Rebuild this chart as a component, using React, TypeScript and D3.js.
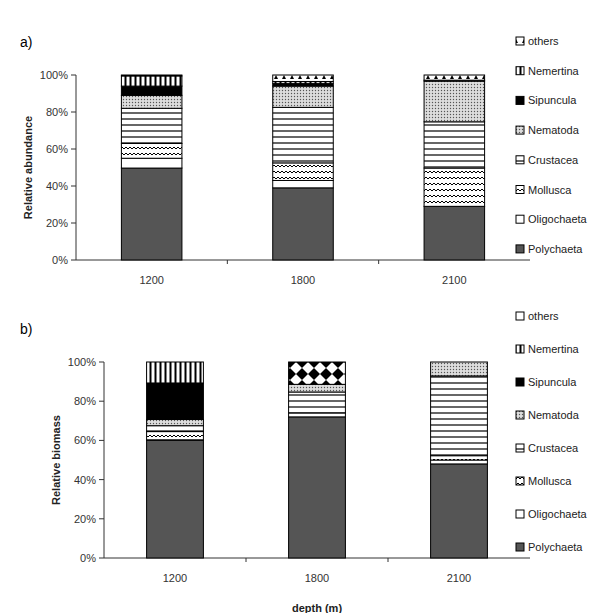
import * as d3 from "d3";

const depths = ["1200", "1800", "2100"];
const groups = ["Polychaeta", "Oligochaeta", "Mollusca", "Crustacea", "Nematoda", "Sipuncula", "Nemertina", "others"];
// values per depth, in the order of `groups`
const abundance = [
  [49.7, 5.3, 8, 19, 7, 5, 5.5, 0.5],
  [39, 4, 9.5, 30, 11.5, 1.5, 1, 3.5],
  [29, 0, 20.7, 25, 22, 0.5, 0, 2.8],
];
const biomass = [
  [60, 0.3, 4.2, 3, 3.2, 18.6, 10.7, 0],
  [72, 0, 2, 10.7, 3.9, 0, 0, 11.4],
  [48, 2, 2.2, 40.7, 7.1, 0, 0, 0],
];
const yTicks = [0, 20, 40, 60, 80, 100];

const fills: Record<string, string> = {
  Polychaeta: "#555",
  Oligochaeta: "#fff",
  Mollusca: "url(#zig)",
  Crustacea: "url(#hlines)",
  Nematoda: "url(#dots)",
  Sipuncula: "#000",
  Nemertina: "url(#vlines)",
  others: "url(#diam)",
};

function Panel({ data, top, bottom, left, right, ylabel, legendTop, legendStep, label, othersFill, othersLegend }: any) {
  const y = d3.scaleLinear().domain([0, 100]).range([bottom, top]);
  const x = d3.scaleBand().domain(depths).range([left, right]);
  const bw = x.bandwidth() * 0.4;
  const stacks = data.map((row: number[]) => {
    let acc = 0;
    return row.map((v) => { const s = acc; acc += v; return [s, acc]; });
  });
  const font = "Arial, 'Liberation Sans', sans-serif";
  return (
    <g fontFamily={font}>
      <text x={12} y={top - 28} fontSize={14}>{label}</text>
      <text transform={`translate(${left - 44},${(top + bottom) / 2}) rotate(-90)`} textAnchor="middle" fontSize={11} fontWeight="bold" fill="#222">{ylabel}</text>
      {yTicks.map((t) => (
        <g key={t}>
          <line x1={left - 5} x2={left} y1={y(t)} y2={y(t)} stroke="#333" />
          <text x={left - 8} y={y(t) + 4} textAnchor="end" fontSize={11} fill="#333">{t}%</text>
        </g>
      ))}
      <line x1={left} x2={left} y1={top} y2={bottom} stroke="#333" />
      <line x1={left} x2={right} y1={bottom} y2={bottom} stroke="#333" />
      {depths.slice(1).map((d) => (
        <line key={d} x1={x(d)!} x2={x(d)!} y1={bottom} y2={bottom + 4} stroke="#333" />
      ))}
      {depths.map((d, i) => (
        <g key={d}>
          {stacks[i].map(([a, b]: number[], j: number) =>
            b - a > 0 ? (
              <rect key={j} x={x(d)! + x.bandwidth() / 2 - bw / 2} width={bw} y={y(b)} height={y(a) - y(b)}
                fill={j === 7 ? othersFill : fills[groups[j]]} stroke="#000" strokeWidth={1} />
            ) : null
          )}
          <text x={x(d)! + x.bandwidth() / 2} y={bottom + 24} textAnchor="middle" fontSize={11} fill="#333">{d}</text>
        </g>
      ))}
      {groups.slice().reverse().map((g, k) => {
        const ly = legendTop + k * legendStep;
        return (
          <g key={g}>
            <rect x={508} y={ly - 8} width={8} height={8} fill={g === "others" ? othersLegend : fills[g]} stroke="#000" />
            <text x={520} y={ly} fontSize={11} fill="#222">{g}</text>
          </g>
        );
      })}
    </g>
  );
}

export default function App() {
  return (
    <svg width={600} height={613} style={{ display: "block", background: "#fff" }}>
      <defs>
        <pattern id="zig" width="8" height="6" patternUnits="userSpaceOnUse">
          <rect width="8" height="6" fill="#fff" />
          <path d="M0 3 L2 1 L4 3 L6 1 L8 3" fill="none" stroke="#000" strokeWidth="1" />
        </pattern>
        <pattern id="hlines" width="6" height="6" patternUnits="userSpaceOnUse">
          <rect width="6" height="6" fill="#fff" />
          <line x1="0" x2="6" y1="3" y2="3" stroke="#000" strokeWidth="1.2" />
        </pattern>
        <pattern id="vlines" width="5" height="5" patternUnits="userSpaceOnUse">
          <rect width="5" height="5" fill="#fff" />
          <line x1="2.5" x2="2.5" y1="0" y2="5" stroke="#000" strokeWidth="2" />
        </pattern>
        <pattern id="dots" width="3" height="3" patternUnits="userSpaceOnUse">
          <rect width="3" height="3" fill="#ddd" />
          <circle cx="1.5" cy="1.5" r="0.7" fill="#555" />
        </pattern>
        <pattern id="diam" width="12" height="12" patternUnits="userSpaceOnUse">
          <rect width="12" height="12" fill="#fff" />
          <path d="M6 0 L12 6 L6 12 L0 6Z" fill="#000" />
        </pattern>
        <pattern id="tri" width="8" height="6" patternUnits="userSpaceOnUse">
          <rect width="8" height="6" fill="#fff" />
          <path d="M4 1 L6 5 L2 5Z" fill="#000" />
        </pattern>
      </defs>
      <Panel data={abundance} top={67} bottom={252} left={68} right={522} ylabel="Relative abundance"
        label="a)" legendTop={37} legendStep={29.7} othersFill="url(#tri)" othersLegend="url(#tri)" />
      <Panel data={biomass} top={354} bottom={550} left={96} right={522} ylabel="Relative biomass"
        label="b)" legendTop={312} legendStep={33} othersFill="url(#diam)" othersLegend="#fff" />
      <text x={309} y={604} textAnchor="middle" fontSize={11} fontWeight="bold" fontFamily="Arial, sans-serif" fill="#222">depth (m)</text>
    </svg>
  );
}
